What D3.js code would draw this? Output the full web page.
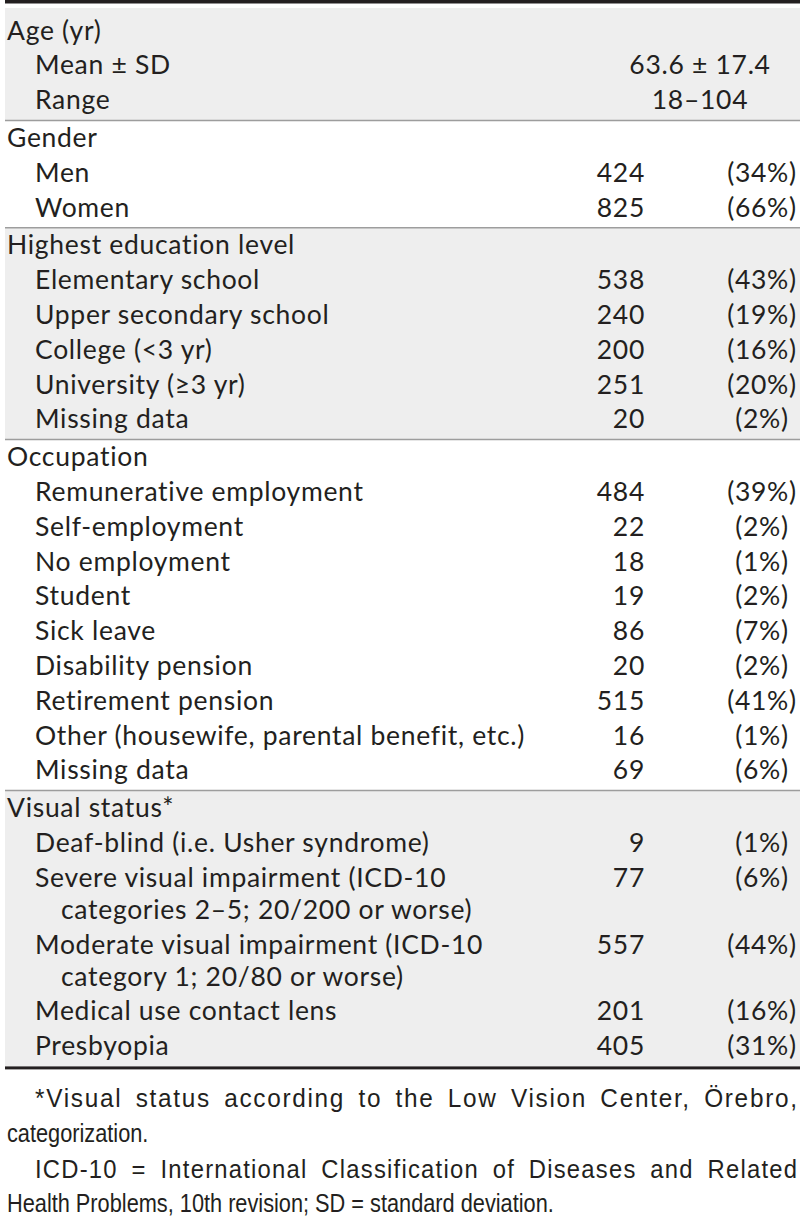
<!DOCTYPE html>
<html>
<head>
<meta charset="utf-8">
<script src="https://cdn.jsdelivr.net/npm/d3@7"></script>
<style>
  body { margin: 0; background: #fff; }
  svg { display: block; }
</style>
</head>
<body>
<svg width="800" height="1219"></svg>
<script>
// table content
var sectionTitles = ["Age (yr)", "Gender", "Highest education level", "Occupation", "Visual status*"];

var ageLabels = ["Mean ± SD", "Range"];
var ageValues = ["63.6 ± 17.4", "18–104"];

var genderLabels = ["Men", "Women"];
var genderN = [424, 825];
var genderPct = [34, 66];

var educationLabels = ["Elementary school", "Upper secondary school", "College (<3 yr)", "University (≥3 yr)", "Missing data"];
var educationN = [538, 240, 200, 251, 20];
var educationPct = [43, 19, 16, 20, 2];

var occupationLabels = ["Remunerative employment", "Self-employment", "No employment", "Student", "Sick leave",
  "Disability pension", "Retirement pension", "Other (housewife, parental benefit, etc.)", "Missing data"];
var occupationN = [484, 22, 18, 19, 86, 20, 515, 16, 69];
var occupationPct = [39, 2, 1, 2, 7, 2, 41, 1, 6];

var visualLabels = ["Deaf-blind (i.e. Usher syndrome)",
  "Severe visual impairment (ICD-10\ncategories 2–5; 20/200 or worse)",
  "Moderate visual impairment (ICD-10\ncategory 1; 20/80 or worse)",
  "Medical use contact lens", "Presbyopia"];
var visualN = [9, 77, 557, 201, 405];
var visualPct = [1, 6, 44, 16, 31];

var footnoteLines = [
  "*Visual status according to the Low Vision Center, Örebro,",
  "categorization.",
  "ICD-10 = International Classification of Diseases and Related",
  "Health Problems, 10th revision; SD = standard deviation."
];

var svg = d3.select("svg"),
    width = +svg.attr("width");

var ink = "#231f20",
    shade = "#eeeeee",
    rule = "#9d9d9d",
    font = "Lato, 'Open Sans', sans-serif",
    noteFont = "'Liberation Sans', Arial, sans-serif";

function counted(labels, n, pct) {
  return labels.map(function(d, i) { return {label: d, n: n[i], pct: pct[i]}; });
}

var sections = [
  {title: sectionTitles[0], shaded: true, rows: ageLabels.map(function(d, i) { return {label: d, mid: ageValues[i]}; })},
  {title: sectionTitles[1], shaded: false, rows: counted(genderLabels, genderN, genderPct)},
  {title: sectionTitles[2], shaded: true, rows: counted(educationLabels, educationN, educationPct)},
  {title: sectionTitles[3], shaded: false, rows: counted(occupationLabels, occupationN, occupationPct)},
  {title: sectionTitles[4], shaded: true, rows: counted(visualLabels, visualN, visualPct)}
];

// vertical layout
var pitch = 34.8, wrapPitch = 32, pad = 1.5, baseOff = 25;
var left = 5, right = 800;
var y = 13;
sections.forEach(function(s, si) {
  s.top = si === 0 ? 8 : y;
  y += pad;
  s.titleBase = y + baseOff;
  y += pitch;
  s.rows.forEach(function(r) {
    r.lines = r.label.split("\n");
    r.base = y + baseOff;
    y += pitch + (r.lines.length - 1) * wrapPitch;
  });
  y += pad;
  s.bottom = y;
});

var x = {title: 7, item: 35, wrap: 61, n: 645, pct: 762, mid: 700};

// backgrounds
svg.append("g").selectAll("rect")
    .data(sections.filter(function(s) { return s.shaded; }))
  .enter().append("rect")
    .attr("x", left)
    .attr("y", function(d) { return d.top; })
    .attr("width", right - left)
    .attr("height", function(d) { return d.bottom - d.top; })
    .attr("fill", shade);

// thin rules between sections
svg.append("g").selectAll("line")
    .data(sections.slice(0, -1))
  .enter().append("line")
    .attr("x1", left).attr("x2", right)
    .attr("y1", function(d) { return d.bottom; })
    .attr("y2", function(d) { return d.bottom; })
    .attr("stroke", rule)
    .attr("stroke-width", 1.5);

// heavy top and bottom rules
svg.append("rect").attr("x", left).attr("y", 0).attr("width", right - left).attr("height", 3.5).attr("fill", ink);
var tableBottom = sections[sections.length - 1].bottom;
svg.append("rect").attr("x", left).attr("y", tableBottom).attr("width", right - left).attr("height", 3).attr("fill", ink);

var body = svg.append("g")
    .attr("font-family", font)
    .attr("font-size", 26.5)
    .attr("letter-spacing", 0.7)
    .attr("fill", ink);

var sec = body.selectAll("g.section")
    .data(sections)
  .enter().append("g")
    .attr("class", "section");

sec.append("text")
    .attr("x", x.title)
    .attr("y", function(d) { return d.titleBase; })
    .text(function(d) { return d.title; });

var row = sec.selectAll("g.row")
    .data(function(d) { return d.rows; })
  .enter().append("g")
    .attr("class", "row");

row.selectAll("text.label")
    .data(function(d) { return d.lines.map(function(t, k) { return {t: t, k: k, base: d.base}; }); })
  .enter().append("text")
    .attr("class", "label")
    .attr("x", function(d) { return d.k ? x.wrap : x.item; })
    .attr("y", function(d) { return d.base + d.k * wrapPitch; })
    .text(function(d) { return d.t; });

row.filter(function(d) { return d.mid; }).append("text")
    .attr("x", x.mid)
    .attr("y", function(d) { return d.base; })
    .attr("text-anchor", "middle")
    .text(function(d) { return d.mid; });

row.filter(function(d) { return d.n != null; }).append("text")
    .attr("x", x.n)
    .attr("y", function(d) { return d.base; })
    .attr("text-anchor", "end")
    .text(function(d) { return d.n; });

row.filter(function(d) { return d.pct != null; }).append("text")
    .attr("x", x.pct)
    .attr("y", function(d) { return d.base; })
    .attr("text-anchor", "middle")
    .text(function(d) { return "(" + d.pct + "%)"; });

// footnotes: narrow face made by squeezing Liberation Sans;
// justified lines widen the glyphs a little, then spread the rest as letter spacing
var noteBase = [1107, 1142, 1178, 1212];
var noteIndent = [35, 7, 35, 7];
var noteJustify = [true, false, true, false];
var sx = 0.87, wordGap = 15, plainGap = 6, noteRight = 797;
var notes = svg.append("g")
    .attr("font-family", noteFont)
    .attr("font-size", 25)
    .attr("fill", ink);

footnoteLines.forEach(function(line, i) {
  var words = line.split(" ");
  var t = notes.append("g").selectAll("text").data(words).enter().append("text")
      .text(function(d) { return d; });
  var w0 = [];
  t.each(function() { w0.push(this.getComputedTextLength()); });
  var k = sx, ls = 0, gap = plainGap;
  if (noteJustify[i]) {
    var avail = noteRight - noteIndent[i] - wordGap * (words.length - 1);
    k = sx * Math.sqrt(avail / (d3.sum(w0) * sx));
    var chars = d3.sum(words, function(d) { return d.length; });
    ls = (avail - d3.sum(w0) * k) / (chars - words.length);
    gap = wordGap - ls;
  }
  var cx = noteIndent[i];
  t.attr("letter-spacing", ls / k)
   .attr("transform", function(d, j) {
     var p = cx;
     cx += w0[j] * k + ls * d.length + gap;
     return "translate(" + p + "," + noteBase[i] + ") scale(" + k + ",1)";
   });
});
</script>
</body>
</html>
